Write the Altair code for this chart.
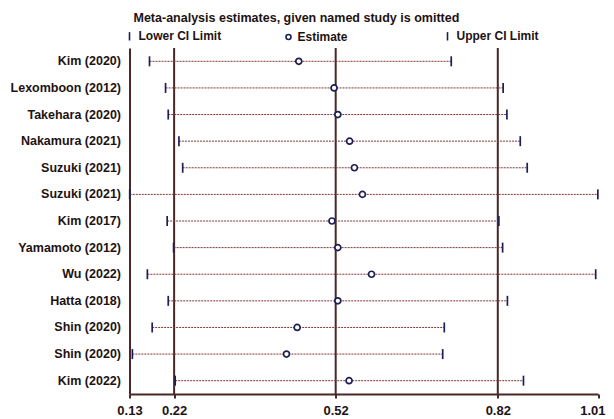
import json
import altair as alt
import pandas as pd

# ---- data ----
studies = ["Kim (2020)", "Lexomboon (2012)", "Takehara (2020)", "Nakamura (2021)",
           "Suzuki (2021)", "Suzuki (2021)", "Kim (2017)", "Yamamoto (2012)",
           "Wu (2022)", "Hatta (2018)", "Shin (2020)", "Shin (2020)", "Kim (2022)"]
lower = [0.172, 0.202, 0.207, 0.227, 0.234, 0.135, 0.205, 0.217, 0.168, 0.207, 0.177, 0.140, 0.220]
estimate = [0.451, 0.517, 0.524, 0.546, 0.555, 0.570, 0.513, 0.524, 0.587, 0.524, 0.448, 0.428, 0.545]
upper = [0.736, 0.833, 0.840, 0.865, 0.878, 1.010, 0.825, 0.832, 1.006, 0.841, 0.723, 0.720, 0.871]
overall = [0.218, 0.520, 0.823]          # combined lower CI, estimate, upper CI
axis_min, axis_max = 0.1346, 1.0103
tick_values = [axis_min] + overall + [axis_max]
kinds = ["Lower CI Limit", "Estimate", "Upper CI Limit"]
title_text = "Meta-analysis estimates, given named study is omitted"

FONT = "Liberation Sans"
C_TEXT = "#1e1212"
C_LINE = "#4a2828"
C_DOT = "#7e3636"
C_NAVY = "#1c1f55"

rows = list(range(len(studies)))
df = pd.DataFrame({"row": rows, "lower": lower, "estimate": estimate, "upper": upper})
long = pd.concat([
    pd.DataFrame({"row": rows, "kind": k, "value": v})
    for k, v in zip(kinds, [lower, estimate, upper])
], ignore_index=True)
ref = pd.DataFrame({"v": overall})

label_expr = "[" + ",".join(json.dumps(s) for s in studies) + "][datum.value]"

xscale = alt.Scale(domain=[axis_min, axis_max], nice=False, zero=False)
xaxis = alt.Axis(values=tick_values, format=".2f", title=None, grid=False,
                 domainColor=C_LINE, domainWidth=2, tickColor=C_LINE, tickWidth=2,
                 tickSize=4, labelFont=FONT, labelFontSize=13, labelFontWeight="bold",
                 labelColor=C_TEXT, labelPadding=6, labelFlush=False, labelOverlap=False,
                 labelAlign={"condition": {"test": "datum.value > 1", "value": "right"},
                             "value": "center"},
                 labelOffset={"condition": {"test": "datum.value > 1", "value": 7},
                              "value": 0})
yenc = alt.Y("row:O", scale=alt.Scale(domain=rows),
             axis=alt.Axis(title=None, labelExpr=label_expr, ticks=False, grid=False,
                           domainColor=C_LINE, domainWidth=2, labelFont=FONT,
                           labelFontSize=12.5, labelFontWeight="bold", labelColor=C_TEXT,
                           labelPadding=9))

ref_rules = alt.Chart(ref).mark_rule(color=C_LINE, strokeWidth=2).encode(
    x=alt.X("v:Q", scale=xscale, axis=xaxis))

dotted = alt.Chart(df).mark_rule(color=C_DOT, strokeWidth=1, strokeDash=[2, 1]).encode(
    x=alt.X("lower:Q", scale=xscale), x2="upper:Q", y=yenc)

bar_path = "M0,-1L0,1"
circ_path = "M0.6,0A0.6,0.6 0 1,1 -0.6,0A0.6,0.6 0 1,1 0.6,0Z"
leg = alt.Legend(title=None, orient="none", legendX=-6, legendY=-18,
                 direction="horizontal", columns=3, gridAlign="all",
                 columnPadding=61, padding=0, symbolSize=70,
                 symbolFillColor="white", symbolStrokeWidth=1.6, labelFont=FONT,
                 labelFontSize=12, labelFontWeight="bold",
                 labelColor=C_TEXT, labelOffset=3, labelLimit=200)
points = alt.Chart(long).mark_point(filled=False, fill="white",
                                    strokeWidth=1.7, size=100, opacity=1).encode(
    x=alt.X("value:Q", scale=xscale),
    y=yenc,
    shape=alt.Shape("kind:N",
                    scale=alt.Scale(domain=kinds, range=[bar_path, circ_path, bar_path]),
                    sort=kinds, legend=leg),
    color=alt.Color("kind:N",
                    scale=alt.Scale(domain=kinds, range=[C_NAVY, C_NAVY, C_NAVY]),
                    sort=kinds, legend=leg),
)

chart = alt.layer(ref_rules, dotted, points).properties(
    width=468.5, height=346,
    title=alt.TitleParams(title_text, anchor="start", frame="group", font=FONT,
                          fontSize=12.5, fontWeight="bold", color=C_TEXT, offset=6, dx=4),
    autosize=alt.AutoSizeParams(type="none"),
    padding={"left": 121.5, "top": 40, "right": 8, "bottom": 23},
).configure_view(stroke=None)

chart.save("out.html", embed_options={"renderer": "svg", "actions": False})
